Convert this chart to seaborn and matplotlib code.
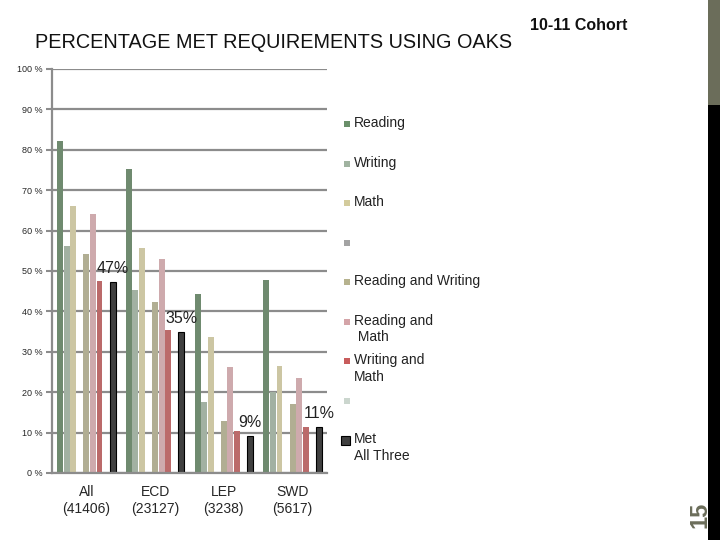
"""
OAKS met-requirements chart, 10-11 cohort.
Output: out.png
"""

import pandas as pd
import matplotlib.pyplot as plt
import seaborn as sns
from matplotlib.patches import Rectangle

groups = ["All\n(41406)", "ECD\n(23127)", "LEP\n(3238)", "SWD\n(5617)"]

series_keys = ["Reading", "Writing", "Math", "Blank1", "RW", "RM", "WM", "Blank2", "All3"]
series_labels = ["Reading", "Writing", "Math", "", "Reading and Writing",
                 "Reading and\n Math", "Writing and\nMath", "", "Met\nAll Three"]
series_colors = ["#6a8f6a", "#a0b3a0", "#d3cb9c", "#a3a3a3", "#b6b28e",
                 "#d4a4a8", "#c85c5c", "#cbd6ce", "#404040"]

reading = [82.2, 75.2, 44.2, 47.7]
writing = [56.3, 45.2, 17.5, 20.0]
math = [66.2, 55.7, 33.7, 26.5]
blank1 = [0, 0, 0, 0]
read_write = [54.1, 42.4, 12.9, 17.0]
read_math = [64.1, 52.9, 26.3, 23.4]
write_math = [47.6, 35.5, 10.3, 11.4]
blank2 = [0, 0, 0, 0]
met_all = [47.4, 35.0, 9.2, 11.4]

values = [reading, writing, math, blank1, read_write, read_math, write_math, blank2, met_all]

rows = []
for key, vals in zip(series_keys, values):
    for g, v in zip(groups, vals):
        rows.append({"Group": g, "Series": key, "Pct": v})
df = pd.DataFrame(rows)

sns.set_theme(style="white")
plt.rcParams['font.family'] = ['Liberation Sans', 'DejaVu Sans']

fig = plt.figure(figsize=(7.2, 5.4), dpi=100)
W, H = 720, 540
ax = fig.add_axes([52 / W, 1 - 473 / H, (327 - 52) / W, (473 - 69) / H])

sns.barplot(data=df, x="Group", y="Pct", hue="Series", hue_order=series_keys,
            palette=dict(zip(series_keys, series_colors)), width=0.86, gap=0.1,
            linewidth=0, legend=False, ax=ax)

for bar in ax.containers[-1]:
    bar.set_edgecolor("black")
    bar.set_linewidth(0.8)
    ax.annotate(f"{round(bar.get_height())}%",
                (bar.get_x() + bar.get_width() / 2, bar.get_height()),
                xytext=(0, 4), textcoords="offset points", ha="center", va="bottom",
                fontsize=11.5, color="#222222")

ax.set_ylim(0, 100)
ax.set_xlim(-0.5, len(groups) - 0.5)
ax.set_yticks(range(0, 101, 10))
ax.set_yticklabels([f"{v} %" for v in range(0, 101, 10)], fontsize=6.5)
ax.yaxis.grid(True, color="#8c8c8c", linewidth=1.6)
ax.set_axisbelow(True)
ax.set_xlabel("")
ax.set_ylabel("")
ax.tick_params(axis="x", which="major", length=0, labelsize=10, pad=9)
ax.set_xticks([i - 0.5 for i in range(len(groups) + 1)], minor=True)
ax.tick_params(axis="x", which="minor", length=5, width=1.5, color="#8c8c8c", direction="out")
ax.tick_params(axis="y", length=4, width=1.5, color="#8c8c8c", left=True, pad=3)
for side in ["top", "right"]:
    ax.spines[side].set_visible(False)
for side in ["left", "bottom"]:
    ax.spines[side].set_color("#8c8c8c")
    ax.spines[side].set_linewidth(1.6)

# legend, one entry every ~39.5 px
for i, (label, color) in enumerate(zip(series_labels, series_colors)):
    yc = 124 + i * 39.5
    big = i == len(series_labels) - 1
    s = 9 if big else 6
    fig.add_artist(Rectangle(((350 - s) / W, 1 - (yc + s / 2) / H), s / W, s / H,
                             transform=fig.transFigure, facecolor=color,
                             edgecolor="black" if big else "none", linewidth=0.8))
    fig.text(354 / W, 1 - (yc - 8) / H, label, fontsize=10, va="top", ha="left",
             color="#222222", linespacing=1.25)

fig.text(35 / W, 1 - 43 / H, "PERCENTAGE MET REQUIREMENTS USING OAKS",
         fontsize=14.3, va="center", ha="left", color="#111111")
fig.text(530 / W, 1 - 26 / H, "10-11 Cohort", fontsize=11.5, fontweight="bold",
         va="center", ha="left", color="#111111")

# slide side strip and page number
fig.add_artist(Rectangle((708 / W, 0), 12 / W, 1 - 105 / H, transform=fig.transFigure,
                         facecolor="black", edgecolor="none"))
fig.add_artist(Rectangle((708 / W, 1 - 105 / H), 12 / W, 105 / H, transform=fig.transFigure,
                         facecolor="#6b6d5a", edgecolor="none"))
fig.text(700 / W, 1 - 515 / H, "15", rotation=90, fontsize=17, fontweight="bold",
         color="#6b6d5a", va="center", ha="center")

fig.savefig("out.png", dpi=100)
